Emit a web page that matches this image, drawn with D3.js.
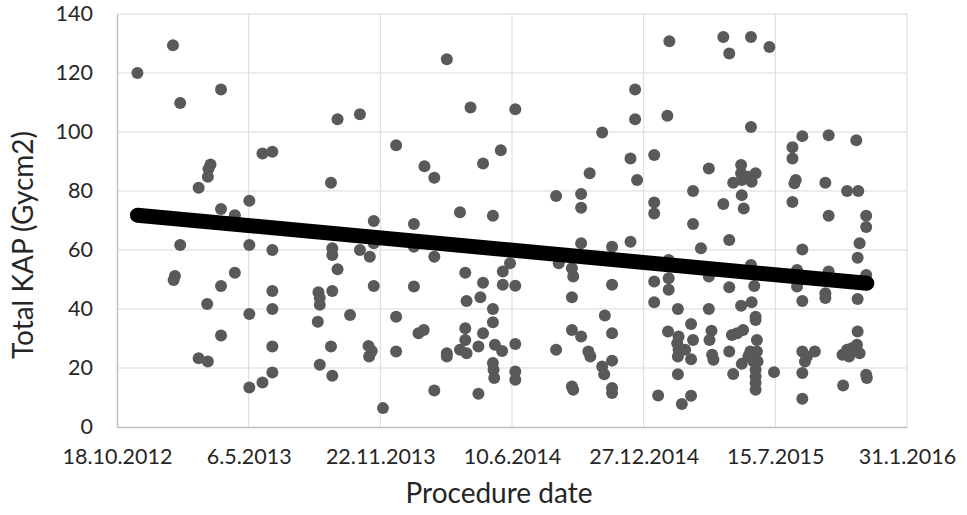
<!DOCTYPE html>
<html>
<head>
<meta charset="utf-8">
<script src="https://cdn.jsdelivr.net/npm/d3@7"></script>
<style>
  body { margin: 0; background: #fff; }
  text { font-family: Lato, "Open Sans", sans-serif; fill: #262626; }
</style>
</head>
<body>
<div id="chart"></div>
<script>
// dates are Excel serial numbers (41200 = 18.10.2012)
var procDate = [
  41231, 41285, 41296, 41358, 41421, 41436, 41342, 41339, 41338, 41324,
  41358, 41379, 41401, 41296, 41401, 41436, 41286, 41288, 41379, 41358,
  41337, 41401, 41436, 41436, 41358, 41324, 41338, 41436, 41436, 41401,
  41421, 41506, 41508, 41508, 41505, 41508, 41525, 41527, 41527, 41535,
  41527, 41525, 41527, 41535, 41569, 41569, 41584, 41554, 41590, 41590,
  41590, 41582, 41587, 41583, 41604, 41624, 41624, 41624, 41651, 41651,
  41651, 41667, 41682, 41682, 41666, 41658, 41682, 41701, 41701, 41701,
  41721, 41721, 41729, 41729, 41729, 41731, 41731, 41737, 41749, 41749,
  41752, 41756, 41756, 41756, 41771, 41771, 41771, 41771, 41772, 41773,
  41774, 41785, 41783, 41786, 41786, 41797, 41805, 41805, 41805, 41805,
  41805, 41867, 41867, 41871, 41891, 41893, 41891, 41891, 41891, 41893,
  41905, 41905, 41905, 41905, 41916, 41919, 41918, 41937, 41937, 41940,
  41941, 41952, 41952, 41952, 41952, 41952, 41952, 41980, 41980, 41987,
  41987, 41990, 42016, 42016, 42016, 42016, 42016, 42022, 42039, 42036,
  42038, 42038, 42038, 42037, 42053, 42051, 42053, 42052, 42052, 42052,
  42058, 42063, 42072, 42072, 42072, 42075, 42075, 42075, 42087, 42099,
  42099, 42099, 42103, 42100, 42104, 42106, 42121, 42121, 42130, 42130,
  42130, 42130, 42136, 42134, 42136, 42148, 42148, 42149, 42159, 42170,
  42164, 42149, 42152, 42148, 42142, 42151, 42149, 42163, 42163, 42163,
  42168, 42164, 42170, 42170, 42172, 42162, 42172, 42159, 42167, 42173,
  42170, 42170, 42170, 42170, 42198, 42191, 42226, 42226, 42226, 42231,
  42229, 42233, 42233, 42241, 42241, 42241, 42241, 42260, 42248, 42245,
  42241, 42241, 42276, 42276, 42276, 42281, 42281, 42281, 42303, 42302,
  42309, 42316, 42324, 42328, 42312, 42309, 42326, 42323, 42328, 42325,
  42325, 42325, 42338, 42338, 42338, 42338, 42339
];

var totalKAP = [
  120.0, 129.4, 109.8, 114.4, 92.7, 93.3, 89.0, 87.5, 84.8, 81.1,
  73.9, 71.8, 76.7, 61.7, 61.7, 60.0, 49.8, 51.2, 52.3, 47.8,
  41.7, 38.3, 46.1, 40.0, 31.0, 23.3, 22.2, 27.3, 18.5, 13.4,
  15.1, 45.7, 43.7, 41.4, 35.7, 21.1, 82.8, 60.6, 58.3, 53.5,
  46.1, 27.3, 17.4, 104.3, 106.0, 60.0, 57.7, 38.0, 69.8, 62.3,
  47.8, 27.5, 25.8, 23.9, 6.4, 95.5, 37.4, 25.6, 68.8, 61.1,
  47.6, 88.4, 84.5, 57.7, 32.9, 31.8, 12.4, 124.7, 25.0, 23.9,
  72.8, 26.2, 52.3, 33.5, 29.5, 42.7, 25.0, 108.3, 27.3, 11.3,
  44.0, 89.3, 48.9, 31.8, 71.6, 40.0, 35.5, 21.7, 19.4, 16.6,
  27.9, 25.8, 93.8, 52.7, 48.2, 55.5, 107.7, 47.9, 28.1, 18.8,
  16.0, 78.3, 26.2, 55.5, 53.8, 51.0, 44.0, 32.9, 13.7, 12.6,
  79.0, 74.3, 62.3, 30.7, 25.6, 23.9, 86.0, 99.8, 20.5, 17.9,
  37.8, 61.1, 48.2, 31.8, 22.5, 13.2, 11.5, 91.0, 62.8, 114.4,
  104.3, 83.7, 92.2, 76.1, 72.4, 49.3, 42.3, 10.7, 130.8, 105.5,
  56.6, 50.4, 46.5, 32.4, 30.7, 28.4, 26.2, 23.9, 40.0, 17.9,
  7.8, 26.2, 34.9, 23.0, 10.6, 80.0, 68.8, 29.5, 60.6, 87.6,
  51.0, 40.0, 32.6, 29.5, 24.5, 22.8, 132.2, 75.6, 126.6, 63.4,
  47.4, 25.6, 82.8, 31.2, 18.0, 88.8, 86.0, 83.7, 84.8, 86.0,
  83.1, 78.6, 74.1, 41.1, 31.8, 32.9, 21.4, 132.2, 101.7, 54.9,
  47.8, 42.3, 37.4, 36.3, 29.5, 25.6, 25.6, 23.9, 22.2, 22.2,
  19.4, 17.1, 14.9, 12.6, 18.6, 128.8, 94.8, 91.0, 76.3, 83.7,
  82.6, 53.2, 47.6, 98.6, 60.2, 42.7, 25.6, 25.6, 23.9, 22.2,
  18.3, 9.6, 82.8, 45.3, 43.7, 98.9, 71.6, 52.7, 14.1, 24.5,
  26.2, 26.7, 27.9, 25.0, 23.9, 80.0, 80.0, 97.2, 62.3, 57.4,
  43.4, 32.4, 71.6, 67.8, 51.5, 17.7, 16.6
];

// linear trendline
var trendDate = [41231, 42339];
var trendKAP = [71.8, 48.7];

var xTicks = [41200, 41400, 41600, 41800, 42000, 42200, 42400];
var yTicks = [0, 20, 40, 60, 80, 100, 120, 140];

var svgWidth = 967;
var svgHeight = 515;

var margin = {
    top: 14,
    right: 60,
    bottom: 88,
    left: 117
};

var width = svgWidth - margin.left - margin.right;
var height = svgHeight - margin.top - margin.bottom;

var svg = d3.select("#chart")
    .append("svg")
    .attr("width", svgWidth)
    .attr("height", svgHeight);

var chartGroup = svg.append("g")
    .attr("transform", `translate(${margin.left}, ${margin.top})`);

var xScale = d3.scaleLinear().domain([41200, 42400]).range([0, width]);
var yScale = d3.scaleLinear().domain([0, 140]).range([height, 0]);

// excel serial -> d.m.yyyy
var excelEpoch = Date.UTC(1899, 11, 30);
function fmtDate(serial) {
    var d = new Date(excelEpoch + serial * 86400000);
    return d.getUTCDate() + "." + (d.getUTCMonth() + 1) + "." + d.getUTCFullYear();
}

// gridlines
chartGroup.append("g")
    .selectAll("line")
    .data(yTicks.slice(1))
    .enter()
    .append("line")
    .attr("x1", 0)
    .attr("x2", width)
    .attr("y1", d => yScale(d))
    .attr("y2", d => yScale(d))
    .attr("stroke", "#d9d9d9")
    .attr("stroke-width", 1);

chartGroup.append("g")
    .selectAll("line")
    .data(xTicks.slice(1))
    .enter()
    .append("line")
    .attr("x1", d => xScale(d))
    .attr("x2", d => xScale(d))
    .attr("y1", 0)
    .attr("y2", height)
    .attr("stroke", "#d9d9d9")
    .attr("stroke-width", 1);

// axes
var bottomAxis = d3.axisBottom(xScale)
    .tickValues(xTicks)
    .tickSize(0)
    .tickPadding(22)
    .tickFormat(fmtDate);

var leftAxis = d3.axisLeft(yScale)
    .tickValues(yTicks)
    .tickSize(0)
    .tickPadding(24);

var xAxis = chartGroup.append("g")
    .attr("transform", `translate(0, ${height})`)
    .call(bottomAxis);

var yAxis = chartGroup.append("g")
    .call(leftAxis);

[xAxis, yAxis].forEach(function (ax) {
    ax.select(".domain").attr("stroke", "#bfbfbf").attr("stroke-width", 1.5);
    ax.selectAll("text")
        .style("font-family", "Lato, 'Open Sans', sans-serif")
        .style("font-size", "21.5px")
        .attr("fill", "#262626");
});

// points
chartGroup.append("g")
    .selectAll("circle")
    .data(procDate)
    .enter()
    .append("circle")
    .attr("cx", d => xScale(d))
    .attr("cy", (d, i) => yScale(totalKAP[i]))
    .attr("r", 6)
    .attr("fill", "#595959");

// trendline
var trendLine = d3.line()
    .x(d => xScale(d))
    .y((d, i) => yScale(trendKAP[i]));

chartGroup.append("path")
    .datum(trendDate)
    .attr("d", trendLine)
    .attr("fill", "none")
    .attr("stroke", "#000")
    .attr("stroke-width", 15)
    .attr("stroke-linecap", "round");

// axis titles
svg.append("text")
    .attr("x", 499)
    .attr("y", 503)
    .attr("text-anchor", "middle")
    .style("font-size", "28px")
    .text("Procedure date");

svg.append("text")
    .attr("transform", "translate(33, 245) rotate(-90)")
    .attr("text-anchor", "middle")
    .style("font-size", "28px")
    .text("Total KAP (Gycm2)");
</script>
</body>
</html>
